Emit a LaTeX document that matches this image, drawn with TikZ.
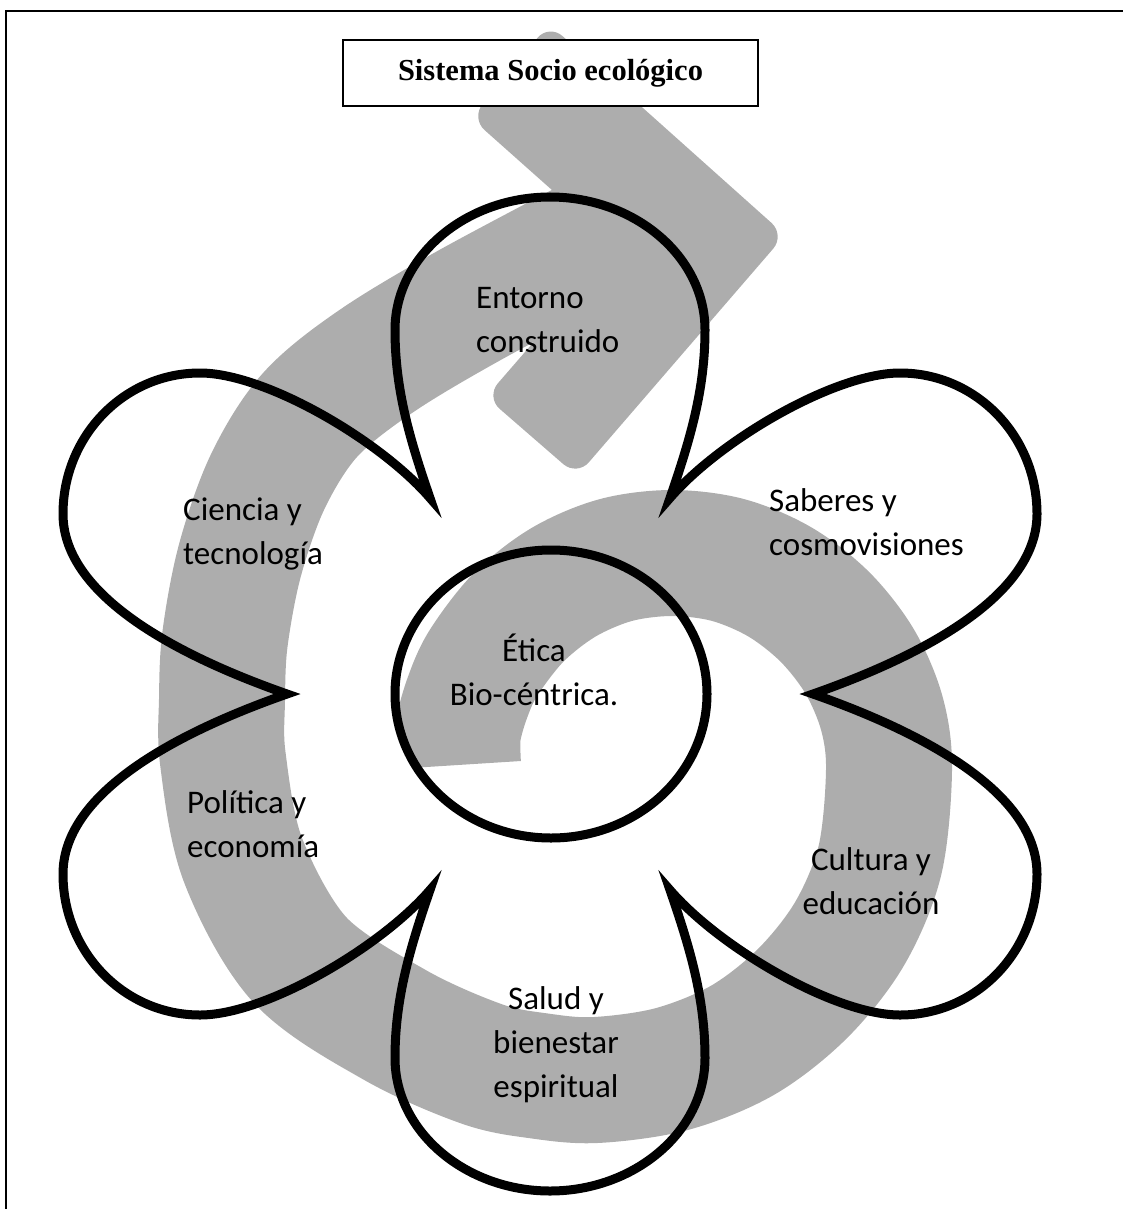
\documentclass[tikz,border=0pt]{standalone}
\usepackage{fontspec}
\setmainfont{Carlito}
\newfontfamily\titlefont{Liberation Serif}
\usepackage{tikz}
\usetikzlibrary{calc}
\tikzset{
    band/.style={draw=black!32, line width=126pt, line cap=butt, line join=round},
    petal/.style={draw=black, line width=9pt, line join=miter},
    hub/.style={draw=black, line width=9pt},
    lbl/.style={inner sep=0pt, font=\fontsize{33}{44}\selectfont},
    titlebox/.style={draw, line width=2pt, fill=white, minimum width=415pt, minimum height=66pt,
      font=\titlefont\bfseries\fontsize{30.5}{36}\selectfont},
  }

\begin{document}
\begin{tikzpicture}[x=1pt, y=-1pt]
  \useasboundingbox (0,0) rectangle (1123,1209);
  %marco
  \draw[line width=2pt] (1123,11) -- (6,11) -- (6,1209);

  %espiral gris
  \draw[band] plot[smooth, tension=0.55] coordinates {
      (458,765) (458,732) (468,696) (484,662) (519,617) (564,582) (616,560) (672,553)
      (728,560) (780,582) (825,617) (860,662) (882,714) (889,770) (880,860)
      (850,933) (803,993) (743,1040) (672,1069) (596,1080) (540,1076) (482,1064)
      (395,1025) (300,960) (243,860) (223,760) (222,700) (225,639) (240,560)
      (268,481) (310,415) (375,362) (470,305) (615,228)};
  %punta
  \fill[black!32, rounded corners=18pt] (549,24) -- (785,235) -- (577,476)
      -- (486,397) -- (616,247) -- (471,118) -- cycle;
  %fuera del centro
  \begin{scope}
    \clip (300,600) rectangle (470,800);
    \fill[white, even odd rule] (290,590) rectangle (480,810)
        (551,694) ellipse [x radius=156pt, y radius=144pt];
  \end{scope}

  %titulo
  \node[titlebox] (titulo) at (550.5,73) {Sistema Socio ecológico};

  %petalos
  \coordinate (UL) at (430,498);
  \coordinate (UR) at (670,498);
  \coordinate (R) at (813,694);
  \coordinate (LR) at (670,890);
  \coordinate (LL) at (430,890);
  \coordinate (L) at (287,694);
  \draw[petal] (L) .. controls (190,660) and (63,600) .. (63,514)
      .. controls (63,436) and (124,373) .. (200,373)
      .. controls (265,373) and (380,440) .. (UL)
      .. controls (410,440) and (395,390) .. (395,330)
      .. controls (395,256) and (466,197) .. (550,197)
      .. controls (634,197) and (705,256) .. (705,330)
      .. controls (705,390) and (690,440) .. (UR)
      .. controls (720,440) and (835,373) .. (900,373)
      .. controls (976,373) and (1037,436) .. (1037,514)
      .. controls (1037,600) and (910,660) .. (R)
      .. controls (910,728) and (1037,788) .. (1037,874)
      .. controls (1037,952) and (976,1015) .. (900,1015)
      .. controls (835,1015) and (720,948) .. (LR)
      .. controls (690,948) and (705,998) .. (705,1058)
      .. controls (705,1132) and (634,1191) .. (550,1191)
      .. controls (466,1191) and (395,1132) .. (395,1058)
      .. controls (395,998) and (410,948) .. (LL)
      .. controls (380,948) and (265,1015) .. (200,1015)
      .. controls (124,1015) and (63,952) .. (63,874)
      .. controls (63,788) and (190,728) .. cycle;

  %centro
  \draw[hub] (551,694) ellipse [x radius=156pt, y radius=144pt];

  %textos
  \node[lbl, anchor=west, align=left] (entorno) at (476,320) {Entorno\\construido};
  \node[lbl, anchor=west, align=left] (ciencia) at (183,534) {Ciencia y\\tecnología};
  \node[lbl, anchor=west, align=left] (saberes) at (769,522) {Saberes y\\cosmovisiones};
  \node[lbl, anchor=west, align=left] (politica) at (187,824) {Política y\\economía};
  \node[lbl, align=center] (cultura) at (871,881) {Cultura y\\educación};
  \node[lbl, align=center] (salud) at (556,1045) {Salud y\\bienestar\\espiritual};
  \node[lbl, align=center] (etica) at (534,670) {Ética\\Bio-céntrica.};
\end{tikzpicture}
\end{document}
